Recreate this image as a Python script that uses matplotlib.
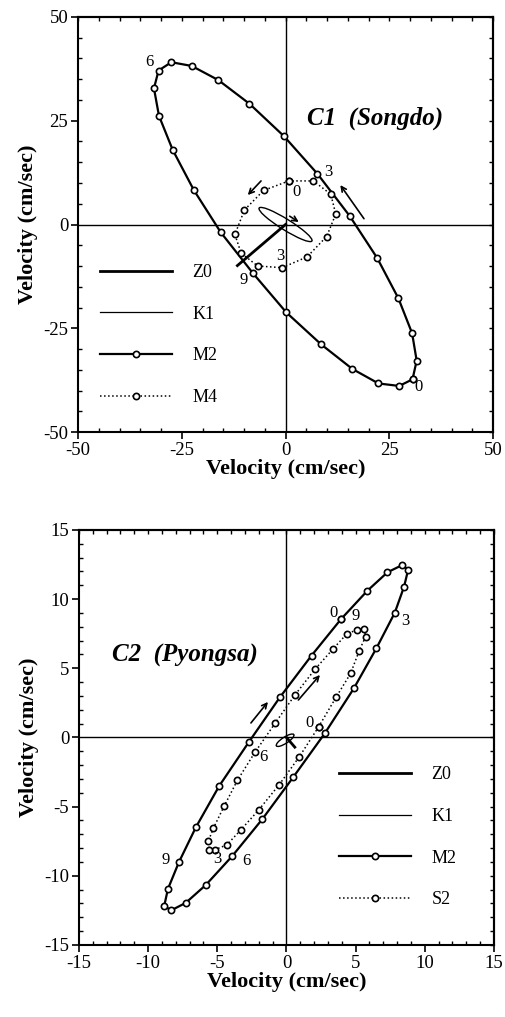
import matplotlib.pyplot as plt
from matplotlib.patches import Ellipse
from matplotlib.lines import Line2D
from matplotlib.ticker import MultipleLocator

plt.rcParams['font.family'] = ['Liberation Serif', 'DejaVu Serif']
plt.rcParams['axes.unicode_minus'] = False

# ---- C1 (Songdo): hodographs, u = east, v = north (cm/sec)
m2_c1_u = [30.6, 31.6, 30.5, 27.2, 22.1, 15.5, 7.7, -0.4, -8.7, -16.2, -22.6,
           -27.5, -30.6, -31.7, -30.5, -27.2, -22.1, -15.6, -7.8, 0.2, 8.6,
           16.1, 22.4, 27.4, 30.6]
m2_c1_v = [-37.3, -32.8, -26.2, -17.8, -8.1, 2.0, 12.2, 21.3, 29.1, 34.8, 38.2,
           39.1, 37.1, 32.8, 26.2, 18.0, 8.3, -1.9, -11.8, -21.2, -28.9,
           -34.8, -38.3, -38.9, -37.3]
m4_c1_u = [0.8, -5.3, -9.9, -12.2, -10.7, -6.7, -0.8, 5.2, 9.9, 12.1, 10.9,
           6.7, 0.8]
m4_c1_v = [10.5, 8.2, 3.5, -2.4, -6.9, -10.0, -10.4, -7.8, -2.9, 2.5, 7.3,
           10.5, 10.5]
z0_c1_u = [0, -11.6]
z0_c1_v = [0, -9.9]
k1_c1 = dict(center=(0.0, 0.0), major=15.0, minor=2.6, angle=-32)

# ---- C2 (Pyongsa)
m2_c2_u = [3.93, 5.85, 7.30, 8.38, 8.79, 8.50, 7.83, 6.50, 4.87, 2.77, 0.48,
           -1.76, -3.92, -5.83, -7.29, -8.33, -8.84, -8.57, -7.78, -6.55,
           -4.86, -2.70, -0.48, 1.81, 3.93]
m2_c2_v = [8.54, 10.61, 11.94, 12.47, 12.11, 10.90, 9.02, 6.45, 3.55, 0.30,
           -2.88, -5.92, -8.57, -10.66, -11.96, -12.49, -12.18, -10.95, -9.02,
           -6.49, -3.50, -0.30, 2.90, 5.92, 8.54]
s2_c2_u = [2.33, 0.93, -0.54, -2.01, -3.31, -4.32, -5.15, -5.60, -5.65, -5.29,
           -4.50, -3.55, -2.28, -0.83, 0.61, 2.06, 3.34, 4.35, 5.07, 5.63,
           5.72, 5.26, 4.64, 3.58, 2.33]
s2_c2_v = [0.78, -1.39, -3.43, -5.24, -6.69, -7.77, -8.10, -8.10, -7.50, -6.57,
           -4.95, -3.10, -1.07, 1.02, 3.07, 4.93, 6.37, 7.48, 7.77, 7.82,
           7.29, 6.28, 4.64, 2.90, 0.78]
z0_c2_u = [0, 0.6]
z0_c2_v = [0, -0.7]
k1_c2 = dict(center=(-0.1, -0.2), major=1.5, minor=0.45, angle=33)

# hour marks (index into the series) and their labels
hour_idx = [0, 6, 12, 18]
hour_txt = ['0', '3', '6', '9']

legend_c1 = ['Z0', 'K1', 'M2', 'M4']
legend_c2 = ['Z0', 'K1', 'M2', 'S2']


def hour_labels(ax, u, v, idx, txt, offsets):
    for i, t, off in zip(idx, txt, offsets):
        ax.annotate(t, xy=(u[i], v[i]), xytext=off, textcoords='offset points',
                    ha='center', va='center', fontsize=12)


def arrow(ax, start, end):
    ax.annotate('', xy=end, xytext=start,
                arrowprops=dict(arrowstyle='->', color='k', lw=1.2,
                                mutation_scale=9, shrinkA=0, shrinkB=0))


def frame(ax, lim, major, minor):
    ax.set_xlim(-lim, lim)
    ax.set_ylim(-lim, lim)
    ax.xaxis.set_major_locator(MultipleLocator(major))
    ax.yaxis.set_major_locator(MultipleLocator(major))
    ax.xaxis.set_minor_locator(MultipleLocator(minor))
    ax.yaxis.set_minor_locator(MultipleLocator(minor))
    ax.tick_params(which='major', direction='out', length=5, width=1.2,
                   labelsize=13.5, pad=2)
    ax.tick_params(which='minor', direction='in', length=3, width=1)
    for s in ax.spines.values():
        s.set_linewidth(1.5)
    # inward ticks on the top and right frame
    secx = ax.secondary_xaxis('top')
    secx.xaxis.set_major_locator(MultipleLocator(major))
    secx.xaxis.set_minor_locator(MultipleLocator(minor))
    secx.tick_params(which='both', direction='in', length=3, width=1,
                     labeltop=False)
    secx.spines['top'].set_linewidth(1.5)
    secy = ax.secondary_yaxis('right')
    secy.yaxis.set_major_locator(MultipleLocator(major))
    secy.yaxis.set_minor_locator(MultipleLocator(minor))
    secy.tick_params(which='both', direction='in', length=3, width=1,
                     labelright=False)
    secy.spines['right'].set_linewidth(1.5)
    ax.axhline(0, color='k', lw=1.0, zorder=1)
    ax.axvline(0, color='k', lw=1.0, zorder=1)
    ax.set_xlabel('Velocity (cm/sec)', fontsize=16, fontweight='bold',
                  labelpad=0)
    ax.set_ylabel('Velocity (cm/sec)', fontsize=16, fontweight='bold',
                  labelpad=4)


def handles():
    mk = dict(marker='o', ms=4.5, mfc='w', mew=1.2, color='k')
    return [Line2D([], [], color='k', lw=2.0),
            Line2D([], [], color='k', lw=0.9),
            Line2D([], [], lw=1.6, **mk),
            Line2D([], [], lw=1.1, ls=':', **mk)]


fig = plt.figure(figsize=(5.05, 10.17), dpi=100)
mk = dict(marker='o', ms=4.5, mfc='w', mew=1.2, color='k', zorder=3)
leg_kw = dict(loc='upper left', frameon=False, fontsize=13, handlelength=4.0,
              handletextpad=1.1, labelspacing=1.37, borderpad=0,
              borderaxespad=0, numpoints=1)

# ---------------- C1
ax1 = fig.add_axes([0.1545, 0.5752, 0.8218, 0.4081])
frame(ax1, 50, 25, 5)
ax1.plot(m2_c1_u, m2_c1_v, lw=1.6, **mk)
ax1.plot(m4_c1_u, m4_c1_v, lw=1.1, ls=':', **mk)
ax1.plot(z0_c1_u, z0_c1_v, color='k', lw=2.0, zorder=2)
ax1.add_patch(Ellipse(k1_c1['center'], k1_c1['major'], k1_c1['minor'],
                      angle=k1_c1['angle'], fill=False, lw=1.0, color='k'))
hour_labels(ax1, m2_c1_u, m2_c1_v, hour_idx, hour_txt,
            [(4.2, -5.4), (7.8, 1.5), (-6.9, 6.3), (-7.2, -4.8)])
hour_labels(ax1, m4_c1_u, m4_c1_v, hour_idx[:2], hour_txt[:2],
            [(5.2, -7.8), (-1.5, 8.4)])
arrow(ax1, (18.9, 1.4), (13.2, 9.5))
arrow(ax1, (-5.9, 10.5), (-9.1, 7.1))
arrow(ax1, (1.0, 2.0), (3.2, 0.6))
ax1.text(5.2, 25.7, 'C1  (Songdo)', fontsize=18, fontweight='bold',
         style='italic', ha='left', va='center')
ax1.legend(handles(), legend_c1, bbox_to_anchor=(0.053, 0.405), **leg_kw)

# ---------------- C2
ax2 = fig.add_axes([0.1564, 0.0708, 0.8218, 0.4081])
frame(ax2, 15, 5, 1)
ax2.plot(m2_c2_u, m2_c2_v, lw=1.6, **mk)
ax2.plot(s2_c2_u, s2_c2_v, lw=1.1, ls=':', **mk)
ax2.plot(z0_c2_u, z0_c2_v, color='k', lw=2.0, zorder=2)
ax2.add_patch(Ellipse(k1_c2['center'], k1_c2['major'], k1_c2['minor'],
                      angle=k1_c2['angle'], fill=False, lw=1.0, color='k'))
hour_labels(ax2, m2_c2_u, m2_c2_v, hour_idx, hour_txt,
            [(-5.6, 4.8), (7.9, -5.7), (10.3, -3.3), (-9.6, 1.6)])
hour_labels(ax2, s2_c2_u, s2_c2_v, hour_idx, hour_txt,
            [(-6.9, 2.4), (1.8, -6.6), (6.0, -3.2), (-0.7, 10.0)])
arrow(ax2, (-2.57, 1.05), (-1.34, 2.57))
arrow(ax2, (0.86, 2.71), (2.42, 4.52))
ax2.text(-12.6, 5.9, 'C2  (Pyongsa)', fontsize=18, fontweight='bold',
         style='italic', ha='left', va='center')
ax2.legend(handles(), legend_c2, bbox_to_anchor=(0.627, 0.431), **leg_kw)

fig.savefig('out.png', dpi=100)
